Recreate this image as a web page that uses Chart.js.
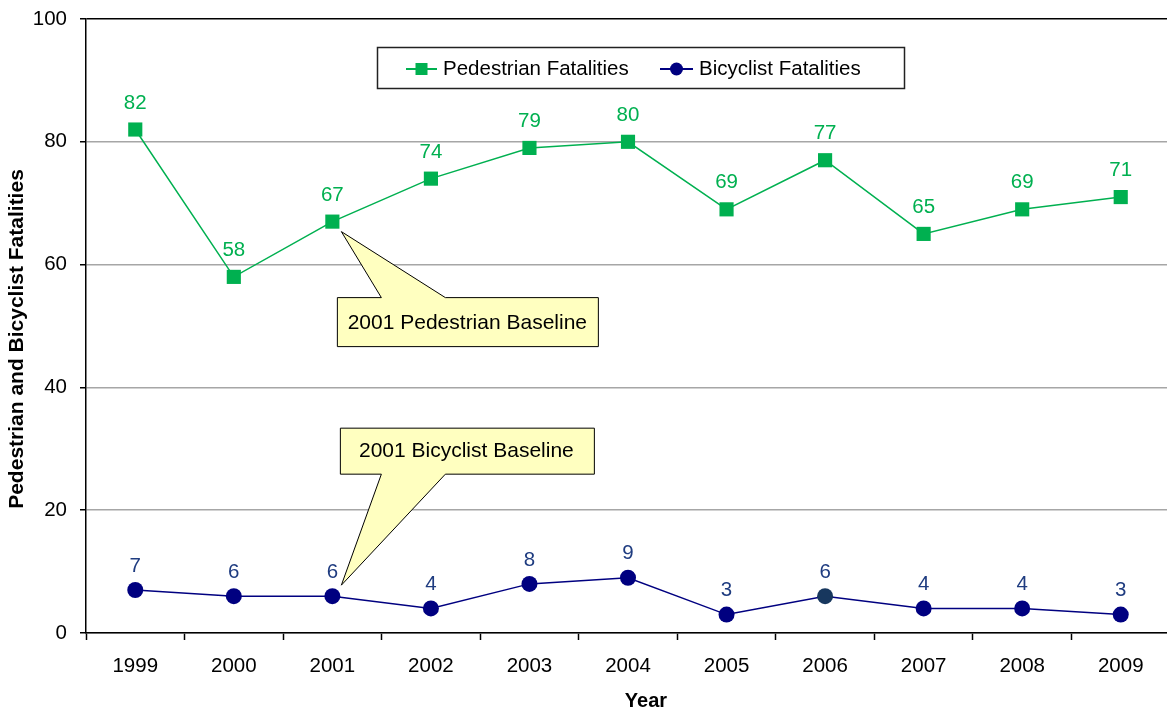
<!DOCTYPE html>
<html>
<head>
<meta charset="utf-8">
<script src="https://cdn.jsdelivr.net/npm/chart.js@4.4.1/dist/chart.umd.min.js"></script>
<style>
  html, body { margin: 0; padding: 0; background: #fff; overflow: hidden; width: 1167px; height: 713px; }
  #wrap { width: 1180px; height: 713px; }
  canvas { display: block; }
</style>
</head>
<body>
<div id="wrap"><canvas id="c" width="1180" height="713"></canvas></div>
<script>
// Fatalities by year
const years = ['1999', '2000', '2001', '2002', '2003', '2004', '2005', '2006', '2007', '2008', '2009'];
const pedestrian = [82, 58, 67, 74, 79, 80, 69, 77, 65, 69, 71];
const bicyclist = [7, 6, 6, 4, 8, 9, 3, 6, 4, 4, 3];
const yTickValues = [0, 20, 40, 60, 80, 100];
const baselineYear = '2001';

const FONT = '"Liberation Sans", Arial, sans-serif';
const GREEN = '#00b050';
const NAVY = '#000080';
const NAVY_TEXT = '#1f3c80';

Chart.defaults.font.family = FONT;
Chart.defaults.color = '#000';

// Speech-bubble callout: a box with a wedge pointing at (tx, ty)
function callout(ctx, tx, ty, box, wedge, edgeY, text, textX, textY) {
  ctx.save();
  ctx.beginPath();
  if (edgeY === box.t) {
    ctx.moveTo(box.l, box.t);
    ctx.lineTo(wedge[0], box.t);
    ctx.lineTo(tx, ty);
    ctx.lineTo(wedge[1], box.t);
    ctx.lineTo(box.r, box.t);
    ctx.lineTo(box.r, box.b);
    ctx.lineTo(box.l, box.b);
  } else {
    ctx.moveTo(box.l, box.t);
    ctx.lineTo(box.r, box.t);
    ctx.lineTo(box.r, box.b);
    ctx.lineTo(wedge[1], box.b);
    ctx.lineTo(tx, ty);
    ctx.lineTo(wedge[0], box.b);
    ctx.lineTo(box.l, box.b);
  }
  ctx.closePath();
  ctx.fillStyle = '#ffffc0';
  ctx.fill();
  ctx.lineWidth = 1;
  ctx.strokeStyle = '#000';
  ctx.stroke();
  ctx.fillStyle = '#000';
  ctx.font = '21px ' + FONT;
  ctx.textAlign = 'center';
  ctx.textBaseline = 'middle';
  ctx.fillText(text, textX, textY);
  ctx.restore();
}

const decor = {
  id: 'decor',
  afterDatasetsDraw(chart) {
    const { ctx, scales: { x, y } } = chart;
    ctx.save();

    // value labels
    ctx.font = '20.5px ' + FONT;
    ctx.textAlign = 'center';
    ctx.textBaseline = 'middle';
    pedestrian.forEach((v, i) => {
      ctx.fillStyle = GREEN;
      ctx.fillText(String(v), x.getPixelForValue(i), y.getPixelForValue(v) - 26.5);
    });
    bicyclist.forEach((v, i) => {
      ctx.fillStyle = NAVY_TEXT;
      ctx.fillText(String(v), x.getPixelForValue(i), y.getPixelForValue(v) - 24);
    });

    // baseline callouts
    const bi = years.indexOf(baselineYear);
    const bx = x.getPixelForValue(bi);

    const pTipX = bx + 9, pTipY = y.getPixelForValue(pedestrian[bi]) + 10;
    callout(ctx, pTipX, pTipY,
      { l: pTipX - 4, r: pTipX + 257, t: pTipY + 66, b: pTipY + 115 },
      [pTipX + 40, pTipX + 104], pTipY + 66,
      baselineYear + ' Pedestrian Baseline', pTipX + 126, pTipY + 92);

    const cTipX = bx + 9, cTipY = y.getPixelForValue(bicyclist[bi]) - 11;
    callout(ctx, cTipX, cTipY,
      { l: cTipX - 1, r: cTipX + 253, t: cTipY - 157, b: cTipY - 111 },
      [cTipX + 40, cTipX + 104], cTipY - 111,
      baselineYear + ' Bicyclist Baseline', cTipX + 125, cTipY - 134);

    // legend
    ctx.fillStyle = '#fff';
    ctx.fillRect(377.5, 47.5, 527, 41);
    ctx.lineWidth = 1.5;
    ctx.strokeStyle = '#222';
    ctx.strokeRect(377.5, 47.5, 527, 41);

    const ly = 69;
    ctx.lineWidth = 2;
    ctx.strokeStyle = GREEN;
    ctx.beginPath(); ctx.moveTo(406, ly); ctx.lineTo(437, ly); ctx.stroke();
    ctx.fillStyle = GREEN;
    ctx.fillRect(421.5 - 6, ly - 6, 12, 12);

    ctx.strokeStyle = NAVY;
    ctx.beginPath(); ctx.moveTo(660, ly); ctx.lineTo(693, ly); ctx.stroke();
    ctx.fillStyle = NAVY;
    ctx.beginPath(); ctx.arc(676.5, ly, 6.5, 0, Math.PI * 2); ctx.fill();

    ctx.fillStyle = '#000';
    ctx.font = '20.5px ' + FONT;
    ctx.textAlign = 'left';
    ctx.textBaseline = 'middle';
    ctx.fillText('Pedestrian Fatalities', 443, ly + 0.5);
    ctx.fillText('Bicyclist Fatalities', 699, ly + 0.5);

    // axis titles
    ctx.font = 'bold 20px ' + FONT;
    ctx.textAlign = 'center';
    ctx.fillText('Year', 646, 701);

    ctx.translate(17, 339);
    ctx.rotate(-Math.PI / 2);
    ctx.font = 'bold 21px ' + FONT;
    ctx.fillText('Pedestrian and Bicyclist Fatalities', 0, 0);
    ctx.restore();
  }
};

new Chart(document.getElementById('c'), {
  type: 'line',
  data: {
    labels: years,
    datasets: [
      {
        label: 'Pedestrian Fatalities',
        data: pedestrian,
        borderColor: GREEN,
        backgroundColor: GREEN,
        borderWidth: 1.5,
        pointStyle: 'rect',
        pointRadius: 10,
        pointBackgroundColor: GREEN,
        pointBorderColor: GREEN,
        pointBorderWidth: 0,
        tension: 0
      },
      {
        label: 'Bicyclist Fatalities',
        data: bicyclist,
        borderColor: NAVY,
        backgroundColor: NAVY,
        borderWidth: 1.5,
        pointStyle: 'circle',
        pointRadius: 8,
        pointBackgroundColor: years.map(yr => yr === '2006' ? '#17375e' : NAVY),
        pointBorderColor: years.map(yr => yr === '2006' ? '#17375e' : NAVY),
        pointBorderWidth: 0,
        tension: 0
      }
    ]
  },
  options: {
    responsive: false,
    animation: false,
    devicePixelRatio: 1,
    layout: { padding: { top: 19, right: 1, left: 0, bottom: 0 } },
    plugins: {
      legend: { display: false },
      tooltip: { enabled: false },
      title: { display: false }
    },
    scales: {
      x: {
        type: 'category',
        offset: true,
        grid: {
          display: true,
          drawOnChartArea: false,
          offset: true,
          tickLength: 7,
          tickColor: '#000',
          tickWidth: 1.5
        },
        border: { color: '#000', width: 1.5 },
        ticks: {
          font: { size: 20.5, family: FONT },
          color: '#000',
          padding: 14,
          maxRotation: 0,
          autoSkip: false
        },
        afterFit(scale) { scale.height = 80; }
      },
      y: {
        min: 0,
        max: 100,
        afterBuildTicks(scale) { scale.ticks = yTickValues.map(v => ({ value: v })); },
        grid: {
          color: c => (c.tick && c.tick.value === 100) ? '#000' : '#a6a6a6',
          lineWidth: 1.5,
          tickLength: 6,
          tickColor: '#000',
          tickWidth: 1.5
        },
        border: { color: '#000', width: 1.5 },
        ticks: {
          font: { size: 20.5, family: FONT },
          color: '#000',
          padding: 13
        },
        afterFit(scale) {
          scale.width = 86;
          scale.paddingTop = 0;
          scale.paddingBottom = 0;
        }
      }
    }
  },
  plugins: [decor]
});
</script>
</body>
</html>
